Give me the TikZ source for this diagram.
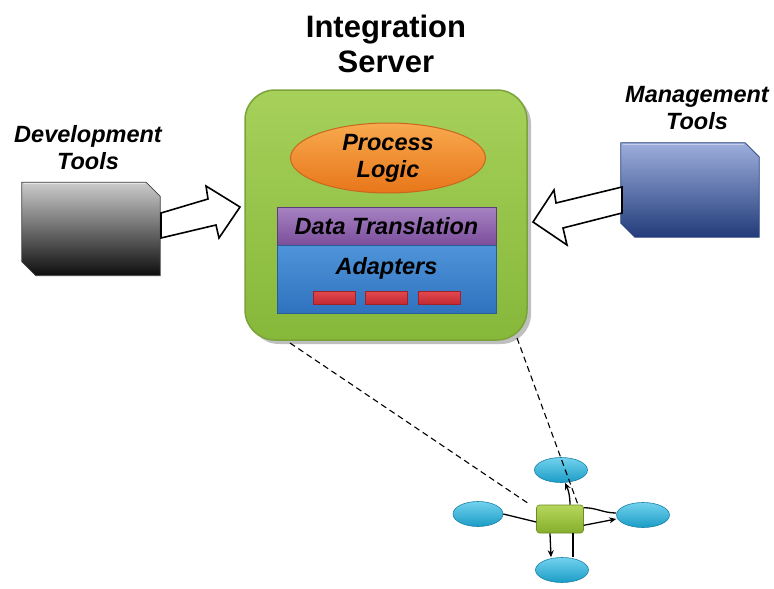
\documentclass[tikz,border=0pt]{standalone}
\usepackage{fontspec}
\setmainfont{Liberation Sans}
\usetikzlibrary{shapes.geometric,arrows.meta,calc}
\definecolor{srvfillA}{HTML}{A6D05A}
\definecolor{srvfillB}{HTML}{86B83A}
\definecolor{srvdraw}{HTML}{7AA33A}
\definecolor{orA}{HTML}{F8A94E}
\definecolor{orB}{HTML}{E8761A}
\definecolor{ordraw}{HTML}{C8681E}
\definecolor{puA}{HTML}{A783C2}
\definecolor{puB}{HTML}{7C4E9C}
\definecolor{pudraw}{HTML}{5E3C7C}
\definecolor{blA}{HTML}{4F95DA}
\definecolor{blB}{HTML}{2F72BE}
\definecolor{bldraw}{HTML}{2A5C96}
\definecolor{rdA}{HTML}{E2484E}
\definecolor{rdB}{HTML}{C42A32}
\definecolor{rddraw}{HTML}{9E2228}
\definecolor{mgA}{HTML}{9DAEDC}
\definecolor{mgM}{HTML}{5A72B4}
\definecolor{mgB}{HTML}{223C7A}
\definecolor{cyA}{HTML}{72D2EE}
\definecolor{cyB}{HTML}{1B9CC6}
\definecolor{cydraw}{HTML}{1A82A6}
\definecolor{ngA}{HTML}{B5D65C}
\definecolor{ngB}{HTML}{86AE2C}
\tikzset{
  lbl/.style={font=\fontsize{23.5}{27}\selectfont\bfseries\itshape, align=center, inner sep=0},
  server/.style={rounded corners=30, minimum width=282, minimum height=250, top color=srvfillA, bottom color=srvfillB, draw=srvdraw, line width=1.5},
  layerbox/.style={minimum width=219, draw, line width=1},
  redbtn/.style={minimum width=42, minimum height=13, top color=rdA, bottom color=rdB, draw=rddraw, line width=0.8, inner sep=0},
  toolbox/.style={rectangle, minimum width=138, minimum height=93, inner sep=0},
  blockarrow/.style={draw=black, fill=white, line width=1.6, line join=miter},
  bubble/.style={ellipse, minimum width=53, minimum height=25, top color=cyA, bottom color=cyB, draw=cydraw, line width=0.6, inner sep=0},
  netline/.style={line width=1.3},
  netarrow/.style={line width=1.3, -{Stealth[length=7pt,width=6pt]}},
  dashconn/.style={line width=1.1, dash pattern=on 6pt off 4pt}
}
\newcommand{\chamferpath}[1]{(#1.north west) -- ($(#1.north east)+(-14,0)$) -- ($(#1.north east)+(0,14)$) -- (#1.south east) -- ($(#1.south west)+(14,0)$) -- ($(#1.south west)+(0,-14)$) -- cycle}
\begin{document}
\begin{tikzpicture}[x=1pt,y=-1pt]
\useasboundingbox (0,0) rectangle (774,589);
% title
\node[font=\fontsize{31}{35}\selectfont\bfseries, align=center, inner sep=0] (title) at (386,44) {Integration\\Server};
% server
\fill[black!25, rounded corners=30] (249,94) rectangle (531,344);
\node[server] (srv) at (386,215) {};
\node[ellipse, minimum width=195, minimum height=70, top color=orA, bottom color=orB, draw=ordraw, line width=1, lbl] (proc) at (388,158) {Process\\Logic};
\node[layerbox, minimum height=38, top color=puA, bottom color=puB, draw=pudraw] (data) at (386.5,226) {};
\node[lbl] at (data.center) {Data Translation};
\node[layerbox, minimum height=68, top color=blA, bottom color=blB, draw=bldraw] (adap) at (386.5,279) {};
\node[lbl] (adaptxt) at (386.5,268) {Adapters};
\node[redbtn] (r1) at (334,297.5) {};
\node[redbtn] (r2) at (386.5,297.5) {};
\node[redbtn] (r3) at (439,297.5) {};
% development tools
\node[lbl] (devlbl) at (88,148) {Development\\Tools};
\node[toolbox] (dev) at (91,229) {};
\shade[top color=gray!40, middle color=black!62, bottom color=black!95, draw=black!75, line width=0.8] \chamferpath{dev};
\draw[white!80!gray, line width=1.2] ([xshift=2,yshift=-1.5]dev.north west) -- ([xshift=-15,yshift=-1.5]dev.north east);
\draw[blockarrow] (161,213) -- (208,199) -- (206,186) -- (240,207) -- (219,238) -- (216,225) -- (161,238) -- cycle;
% management tools
\node[lbl] (mgmlbl) at (697,108) {Management\\Tools};
\node[toolbox, minimum height=94] (mgm) at (690,190) {};
\shade[top color=mgA, middle color=mgM, bottom color=mgB, draw=mgB, line width=0.8] \chamferpath{mgm};
\draw[mgA!60!white, line width=1.2] ([xshift=2,yshift=-1.5]mgm.north west) -- ([xshift=-15,yshift=-1.5]mgm.north east);
\draw[blockarrow] (622,187) -- (556,203) -- (554,190) -- (533,222) -- (567,245) -- (563,228) -- (622,213) -- cycle;
% network
\node[bubble] (te) at (561,470) {};
\node[bubble, minimum width=50] (le) at (478,514) {};
\node[bubble] (re) at (643,515) {};
\node[bubble] (be) at (562,570) {};
\node[rounded corners=3, minimum width=47, minimum height=28, top color=ngA, bottom color=ngB, draw=ngB!80!black, line width=0.6] (nr) at (560,519) {};
\draw[netline] (le.east) -- ([yshift=-3]nr.west);
\draw[netarrow] ([xshift=10]nr.north) to[bend right=12] ([xshift=4]te.south);
\draw[netline] ([yshift=-3]nr.north east) to[out=0,in=180] ([yshift=2]re.west);
\draw[netarrow] ([yshift=8]nr.south east) -- ([yshift=-4]re.west);
\draw[netarrow] ([xshift=-10]nr.south) -- ([xshift=-11]be.north);
\draw[netline] ([xshift=13]nr.south) -- ([xshift=11]be.north);
% dashed zoom lines
\coordinate (dA) at (290,343);
\coordinate (dB) at (517,338);
\draw[dashconn] (dA) -- ([xshift=-9,yshift=2]nr.north west);
\draw[dashconn] (dB) -- ([xshift=18]nr.north);
\end{tikzpicture}
\end{document}
